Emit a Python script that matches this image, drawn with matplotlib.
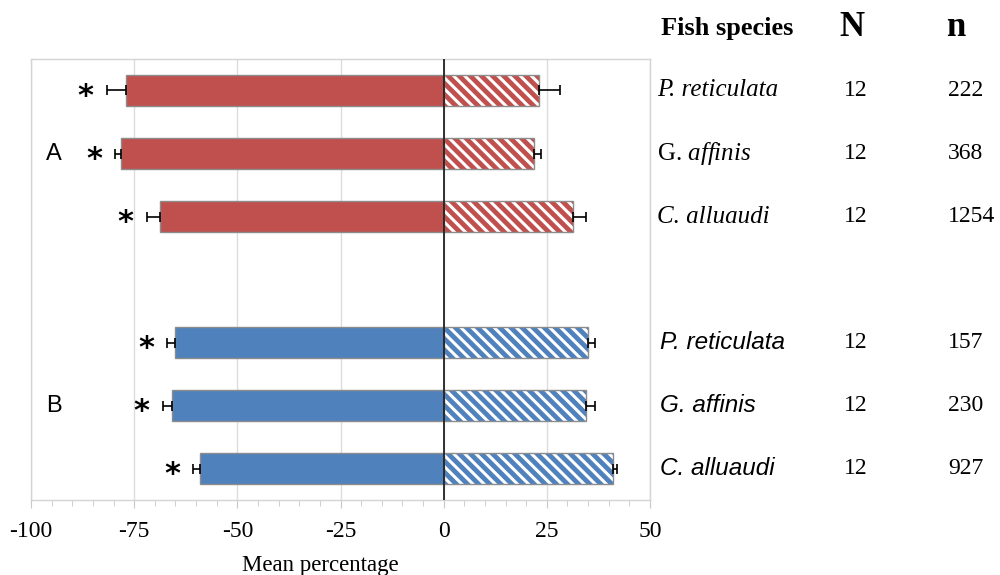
import numpy as np
import matplotlib
matplotlib.use('Agg')
from matplotlib import pyplot as plt
from matplotlib import transforms

# mean percentages (negative side / positive side) and their errors
species = ['P. reticulata', 'G. affinis', 'C. alluaudi']
neg_A = [-77.1, -78.2, -68.7]
neg_A_err = [4.6, 1.5, 3.3]
pos_A = [23.2, 21.9, 31.3]
pos_A_err = [4.9, 1.6, 3.2]
neg_B = [-65.2, -65.8, -59.1]
neg_B_err = [1.9, 2.3, 1.6]
pos_B = [34.9, 34.4, 41.0]
pos_B_err = [1.8, 2.3, 1.1]
N_A = [12, 12, 12]
n_A = [222, 368, 1254]
N_B = [12, 12, 12]
n_B = [157, 230, 927]
xticks = [-100, -75, -50, -25, 0, 25, 50]

red = '#C0504D'
blue = '#4F81BD'
serif = 'Liberation Serif'
sans = 'Liberation Sans'

plt.rcParams['hatch.linewidth'] = 2.2
plt.rcParams['mathtext.fontset'] = 'custom'
plt.rcParams['mathtext.rm'] = serif
plt.rcParams['mathtext.it'] = serif + ':italic'

fig = plt.figure(figsize=(10, 5.75), dpi=100)
ax = fig.add_axes([0.031, 0.1304, 0.619, 0.767])

pos_rows_A = np.arange(3)
pos_rows_B = np.arange(4, 7)
h = 0.5


def draw_group(rows, neg, neg_err, pos, pos_err, color):
    ax.barh(rows, neg, height=h, color=color, edgecolor='#8c8c8c', lw=1, zorder=3)
    ax.barh(rows, pos, height=h, color=color, edgecolor='white', hatch='\\\\\\', lw=0, zorder=3)
    ax.barh(rows, pos, height=h, fill=False, edgecolor='#8c8c8c', lw=1, zorder=4)
    ax.errorbar(neg, rows, xerr=[neg_err, np.zeros(3)], fmt='none', ecolor='black',
                elinewidth=1.2, capsize=3.3, capthick=1.2, zorder=5)
    ax.errorbar(pos, rows, xerr=[np.zeros(3), pos_err], fmt='none', ecolor='black',
                elinewidth=1.2, capsize=3.3, capthick=1.2, zorder=5)
    for r, v, e in zip(rows, neg, neg_err):
        ax.annotate('*', xy=(v - e, r), xytext=(-15, -4), textcoords='offset points',
                    ha='center', va='center', fontsize=22, fontweight='bold',
                    family='DejaVu Sans', zorder=6)


draw_group(pos_rows_A, neg_A, neg_A_err, pos_A, pos_A_err, red)
draw_group(pos_rows_B, neg_B, neg_B_err, pos_B, pos_B_err, blue)

ax.axvline(0, color='#222222', lw=1.3, zorder=6)

ax.set_xlim(-100, 50)
ax.set_ylim(6.5, -0.5)
ax.set_xticks(xticks)
ax.set_xticklabels([str(t) for t in xticks], family=serif, fontsize=17)
ax.set_xticks(np.arange(-100, 51, 5), minor=True)
ax.set_yticks([])
ax.tick_params(axis='x', which='major', length=6, color='#c8c8c8', pad=9)
ax.tick_params(axis='x', which='minor', length=4, color='#c8c8c8')
ax.grid(axis='x', color='#dcdcdc', lw=1, zorder=0)
for s in ax.spines.values():
    s.set_color('#d4d4d4')
    s.set_linewidth(1)

ax.text(-94.5, 1, 'A', ha='center', va='center', family=sans, fontsize=17)
ax.text(-94.5, 5, 'B', ha='center', va='center', family=sans, fontsize=17)

fig.text(0.32, 1 - 566 / 575, 'Mean percentage', ha='center', va='center',
         family=serif, fontsize=16.5)

# species table to the right of the axes
tr = transforms.blended_transform_factory(fig.transFigure, ax.transData)
y_head = 1 - 28 / 575
fig.text(0.661, y_head, 'Fish species', ha='left', va='center', family=serif,
         fontweight='bold', fontsize=19)
fig.text(0.852, y_head, 'N', ha='center', va='center', family=serif, fontweight='bold', fontsize=25)
fig.text(0.956, y_head, 'n', ha='center', va='center', family=serif, fontweight='bold', fontsize=25)

for r, lab, N, n in zip(pos_rows_A, species, N_A, n_A):
    if lab.startswith('G.'):
        genus, rest = lab.split(' ', 1)
        fig.text(0.657, r, genus + ' $\\mathit{' + rest + '}$', transform=tr, ha='left',
                 va='center', family=serif, fontsize=18)
    else:
        fig.text(0.657, r, lab, transform=tr, ha='left', va='center', family=serif,
                 style='italic', fontsize=18)
    fig.text(0.844, r, str(N), transform=tr, ha='left', va='center', family=serif, fontsize=17)
    fig.text(0.948, r, str(n), transform=tr, ha='left', va='center', family=serif, fontsize=17)

for r, lab, N, n in zip(pos_rows_B, species, N_B, n_B):
    fig.text(0.660, r, lab, transform=tr, ha='left', va='center', family=sans,
             style='italic', fontsize=17.5)
    fig.text(0.844, r, str(N), transform=tr, ha='left', va='center', family=serif, fontsize=17)
    fig.text(0.948, r, str(n), transform=tr, ha='left', va='center', family=serif, fontsize=17)

fig.savefig('out.png', dpi=100)
